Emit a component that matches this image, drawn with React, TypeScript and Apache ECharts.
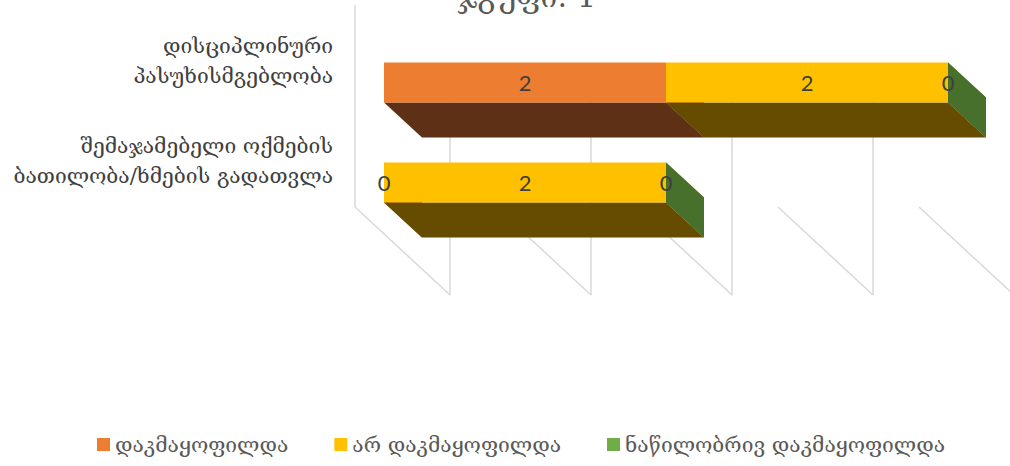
import React, { useEffect, useRef } from "react";
import * as echarts from "echarts";

const TITLE = "ჯგუფი: 1";
const CATEGORIES = [
  "დისციპლინური\nპასუხისმგებლობა",
  "შემაჯამებელი ოქმების\nბათილობა/ხმების გადათვლა",
];
const SERIES_NAMES = ["დაკმაყოფილდა", "არ დაკმაყოფილდა", "ნაწილობრივ დაკმაყოფილდა"];
const SATISFIED = [2, 0];
const NOT_SATISFIED = [2, 2];
const PARTIAL = [0, 0];
const TICKS = [0, 1, 2, 3, 4];

const FRONT_COLORS = ["#ED7D31", "#FFC000", "#70AD47"];
const BOTTOM_COLORS = ["#5E3117", "#654C00", "#2C4520"];
const SIDE_COLORS = ["#8E4B1D", "#997300", "#46702C"];

const GEO_FONT = "'DejaVu Serif', 'DejaVu Sans', serif";
const NUM_FONT = "Lato, 'Liberation Sans', sans-serif";

const DX = 38;
const DY = 35;
const BAR_SHIFT = 22;

export default function App() {
  const ref = useRef<HTMLDivElement>(null);
  useEffect(() => {
    if (!ref.current) return;
    const chart = echarts.init(ref.current, undefined, { renderer: "svg" });
    const values = [SATISFIED, NOT_SATISFIED, PARTIAL];

    const barSeries = values.map((vals, si) => {
      const data = CATEGORIES.map((_, ci) => {
        let start = 0;
        for (let k = 0; k < si; k++) start += values[k][ci];
        return [start, start + vals[ci], ci, vals[ci]];
      });
      return {
        type: "custom",
        name: SERIES_NAMES[si],
        color: FRONT_COLORS[si],
        itemStyle: { color: FRONT_COLORS[si] },
        encode: { x: [0, 1], y: 2 },
        data,
        renderItem: (params: any, api: any) => {
          const ci = api.value(2);
          const s = api.coord([api.value(0), ci]);
          const e = api.coord([api.value(1), ci]);
          const bandH = api.size([0, 1])[1];
          const h = bandH * 0.4;
          const x1 = s[0];
          const x2 = e[0];
          const yc = s[1] + BAR_SHIFT;
          const yt = yc - h / 2;
          const yb = yc + h / 2;
          const base = si * 3;
          return {
            type: "group",
            children: [
              {
                type: "polygon",
                z2: base,
                shape: { points: [[x1, yb], [x2, yb], [x2 + DX, yb + DY], [x1 + DX, yb + DY]] },
                style: { fill: BOTTOM_COLORS[si] },
              },
              {
                type: "polygon",
                z2: base + 1,
                shape: { points: [[x2, yt], [x2 + DX, yt + DY], [x2 + DX, yb + DY], [x2, yb]] },
                style: { fill: SIDE_COLORS[si] },
              },
              {
                type: "rect",
                z2: base + 2,
                shape: { x: x1, y: yt, width: x2 - x1, height: h },
                style: { fill: FRONT_COLORS[si] },
              },
              {
                type: "text",
                z2: 100,
                x: (x1 + x2) / 2,
                y: yc,
                style: {
                  text: String(api.value(3)),
                  fill: "#404040",
                  font: `22px ${NUM_FONT}`,
                  align: "center",
                  verticalAlign: "middle",
                },
              },
            ],
          };
        },
      };
    });

    const gridSeries = {
      type: "custom",
      name: "grid",
      silent: true,
      z: 1,
      encode: { x: 0 },
      data: TICKS.map((t) => [t]),
      renderItem: (params: any, api: any) => {
        const cs = params.coordSys;
        const v = api.value(0);
        const xf = api.coord([v, 0])[0];
        const bottom = cs.y + cs.height;
        const floorFront = bottom - 3.5;
        const floorBack = bottom + 84.5;
        const wallTop = cs.y + 77;
        const ls = { stroke: "#D9D9D9", lineWidth: 1.5 };
        const children: any[] = [
          { type: "line", shape: { x1: xf - 29, y1: floorFront, x2: xf + 66, y2: floorBack }, style: ls },
          { type: "line", shape: { x1: xf + 66, y1: wallTop, x2: xf + 66, y2: floorBack }, style: ls },
        ];
        if (v === TICKS[0]) {
          children.push({ type: "line", shape: { x1: xf - 29, y1: cs.y - 5.5, x2: xf - 29, y2: floorFront }, style: ls });
        }
        return { type: "group", children };
      },
    };

    chart.setOption({
      animation: false,
      title: {
        text: TITLE,
        left: 452,
        top: -24,
        textStyle: { fontFamily: GEO_FONT, fontSize: 30, fontWeight: "normal", color: "#595959" },
      },
      legend: {
        data: SERIES_NAMES,
        bottom: 6,
        left: 92,
        icon: "rect",
        itemWidth: 13,
        itemHeight: 13,
        itemGap: 46,
        textStyle: { fontFamily: GEO_FONT, fontSize: 21, color: "#595959" },
      },
      grid: { left: 384, right: 62, top: 10.5, height: 200 },
      xAxis: {
        type: "value",
        min: 0,
        max: 4,
        interval: 1,
        show: false,
      },
      yAxis: {
        type: "category",
        inverse: true,
        data: CATEGORIES,
        axisLine: { show: false },
        axisTick: { show: false },
        splitLine: { show: false },
        axisLabel: {
          interval: 0,
          hideOverlap: false,
          margin: 51,
          fontFamily: GEO_FONT,
          fontSize: 21,
          lineHeight: 30,
          color: "#404040",
          align: "right",
        },
      },
      series: [gridSeries, ...barSeries],
    });
    return () => chart.dispose();
  }, []);
  return (
    <div
      ref={ref}
      style={{ position: "absolute", left: 0, top: 0, width: 1010, height: 466 }}
    />
  );
}
